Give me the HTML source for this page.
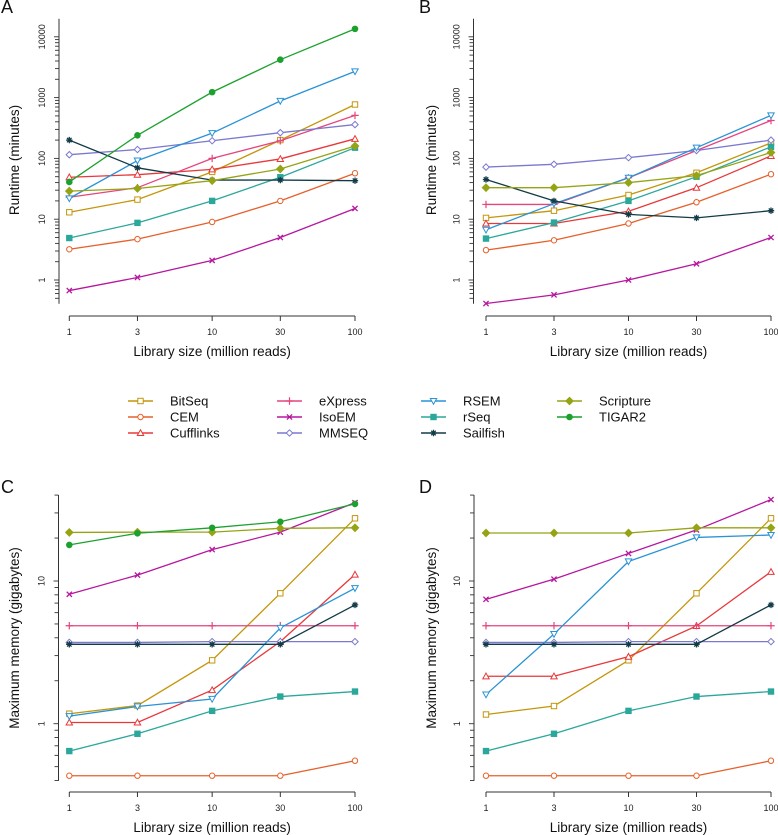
<!DOCTYPE html>
<html><head><meta charset="utf-8"><style>
body{margin:0;background:#fff;}
svg{display:block;font-family:"Liberation Sans",sans-serif;}
</style></head><body>
<svg id="fig" width="778" height="835" viewBox="0 0 778 835" xmlns="http://www.w3.org/2000/svg">
<g id="legend"></g>
</svg>
<script>
const methods=["BitSeq","CEM","Cufflinks","eXpress","IsoEM","MMSEQ","RSEM","rSeq","Sailfish","Scripture","TIGAR2"];
const xValues=[1,3,10,30,100];
const xTickLabels=["1","3","10","30","100"];
const runtimeTicks=[1,10,100,1000,10000];
const memoryTicks=[1,10];
const runtimeA={BitSeq:[13,21,60,200,770],CEM:[3.2,4.7,9,20,57],Cufflinks:[49,54,66,98,210],eXpress:[23,33,100,195,510],IsoEM:[0.67,1.1,2.1,5,15],MMSEQ:[115,140,195,265,360],RSEM:[22,92,260,880,2700],rSeq:[4.9,8.7,20,49,150],Sailfish:[200,70,44,44,43],Scripture:[29,32,43,67,160],TIGAR2:[41,240,1230,4200,13500]};
const runtimeB={BitSeq:[10.5,13.8,25,58,180],CEM:[3.1,4.5,8.5,19,55],Cufflinks:[8.5,8.5,13.5,33,110],eXpress:[17.5,17.5,48,135,420],IsoEM:[0.41,0.57,1.0,1.85,5],MMSEQ:[72,80,103,135,200],RSEM:[6.7,18,48,150,510],rSeq:[4.8,8.8,20,50,155],Sailfish:[45,20,12,10.5,13.8],Scripture:[33,33,40,52,125]};
const memoryC={BitSeq:[1.175,1.34,2.78,8.2,27.5],CEM:[0.432,0.432,0.432,0.432,0.55],Cufflinks:[1.02,1.02,1.72,3.76,11.1],eXpress:[4.86,4.86,4.86,4.86,4.86],IsoEM:[8.07,11,16.6,22,35.4],MMSEQ:[3.71,3.71,3.76,3.76,3.76],RSEM:[1.13,1.32,1.49,4.69,8.9],rSeq:[0.643,0.85,1.23,1.55,1.68],Sailfish:[3.6,3.6,3.6,3.6,6.8],Scripture:[21.9,22,22,23.4,23.6],TIGAR2:[17.9,21.6,23.6,26,34.7]};
const memoryD={BitSeq:[1.16,1.33,2.78,8.2,27.5],CEM:[0.432,0.432,0.432,0.432,0.55],Cufflinks:[2.15,2.15,2.95,4.84,11.6],eXpress:[4.86,4.86,4.86,4.86,4.86],IsoEM:[7.44,10.3,15.6,22.8,37.2],MMSEQ:[3.71,3.71,3.76,3.76,3.76],RSEM:[1.6,4.25,13.7,20.2,21],rSeq:[0.643,0.85,1.23,1.55,1.68],Sailfish:[3.6,3.6,3.6,3.6,6.8],Scripture:[21.7,21.7,21.7,23.6,23.6]};

const colors={BitSeq:"#c4960a",CEM:"#e6602a",Cufflinks:"#e8383a",eXpress:"#e5457d",IsoEM:"#b6179e",MMSEQ:"#7a78cf",RSEM:"#2a93d5",rSeq:"#2ba79b",Sailfish:"#123b48",Scripture:"#95a414",TIGAR2:"#1ca12e"};
const shapes={BitSeq:"sq",CEM:"ci",Cufflinks:"tri",eXpress:"plus",IsoEM:"x",MMSEQ:"dia",RSEM:"dtri",rSeq:"fsq",Sailfish:"ast",Scripture:"fdia",TIGAR2:"fci"};
const NS="http://www.w3.org/2000/svg";
const svg=document.getElementById('fig');
function el(tag,attrs,parent){const e=document.createElementNS(NS,tag);for(const k in attrs)e.setAttribute(k,attrs[k]);(parent||svg).appendChild(e);return e;}

function marker(g,shape,cx,cy,c){
  const r=3.2;let m;
  if(shape==="sq")m=el('rect',{x:cx-r+0.5,y:cy-r+0.5,width:2*r-1,height:2*r-1,fill:"#fff",stroke:c,"stroke-width":1},g);
  else if(shape==="fsq")m=el('rect',{x:cx-r+0.5,y:cy-r+0.5,width:2*r-1,height:2*r-1,fill:c,stroke:c,"stroke-width":1},g);
  else if(shape==="ci")m=el('circle',{cx:cx,cy:cy,r:r-0.5,fill:"#fff",stroke:c,"stroke-width":1},g);
  else if(shape==="fci")m=el('circle',{cx:cx,cy:cy,r:r-0.4,fill:c,stroke:c,"stroke-width":1},g);
  else if(shape==="tri")m=el('polygon',{points:`${cx},${cy-r} ${cx+r},${cy+r*0.8} ${cx-r},${cy+r*0.8}`,fill:"#fff",stroke:c,"stroke-width":1},g);
  else if(shape==="dtri")m=el('polygon',{points:`${cx},${cy+r} ${cx+r},${cy-r*0.8} ${cx-r},${cy-r*0.8}`,fill:"#fff",stroke:c,"stroke-width":1},g);
  else if(shape==="dia")m=el('polygon',{points:`${cx},${cy-r} ${cx+r},${cy} ${cx},${cy+r} ${cx-r},${cy}`,fill:"#fff",stroke:c,"stroke-width":1},g);
  else if(shape==="fdia")m=el('polygon',{points:`${cx},${cy-r-0.5} ${cx+r+0.5},${cy} ${cx},${cy+r+0.5} ${cx-r-0.5},${cy}`,fill:c,stroke:c,"stroke-width":1},g);
  else if(shape==="plus")m=el('path',{d:`M${cx-r-0.5},${cy}H${cx+r+0.5}M${cx},${cy-r-0.5}V${cy+r+0.5}`,stroke:c,"stroke-width":1.2,fill:"none"},g);
  else if(shape==="x")m=el('path',{d:`M${cx-r+0.6},${cy-r+0.6}L${cx+r-0.6},${cy+r-0.6}M${cx-r+0.6},${cy+r-0.6}L${cx+r-0.6},${cy-r+0.6}`,stroke:c,"stroke-width":1.3,fill:"none"},g);
  else if(shape==="ast")m=el('path',{d:`M${cx-r},${cy}H${cx+r}M${cx},${cy-r}V${cy+r}M${cx-r*0.7},${cy-r*0.7}L${cx+r*0.7},${cy+r*0.7}M${cx-r*0.7},${cy+r*0.7}L${cx+r*0.7},${cy-r*0.7}`,stroke:c,"stroke-width":1.3,fill:"none"},g);
  return m;
}

function panel(opt){
  const g=el('g',{});
  
  
  const X=v=>opt.x0+(Math.log10(v))*(opt.x1-opt.x0)/2;
  const Y=v=>opt.y1-(Math.log10(v)-opt.l1)*opt.dec;
  const L=el('text',{x:opt.lx,y:opt.ly,"font-size":18,fill:"#111"},g);L.textContent=opt.letter;
  
  const ya=el('g',{},g);
  
  el('line',{x1:opt.ax,x2:opt.ax,y1:opt.yTop,y2:opt.yBot,stroke:"#333","stroke-width":1},ya);
  const lo=Math.pow(10,opt.lmin),hi=Math.pow(10,opt.lmax);
  for(let d=-1;d<=5;d++){for(let k=1;k<=9;k++){const v=k*Math.pow(10,d);if(v<lo||v>hi)continue;
    const y=Y(v);el('line',{x1:opt.ax-(k===1?5:4),x2:opt.ax,y1:y,y2:y,stroke:"#333","stroke-width":0.9},ya);}}
  opt.yticks.forEach(v=>{const y=Y(v);const t=el('text',{x:opt.ax-14,y:y,"font-size":9,"text-anchor":"middle",transform:`rotate(-90 ${opt.ax-14} ${y})`,fill:"#222"},ya);t.textContent=String(v);
    });
  const yt=el('text',{x:opt.tx,y:opt.tcy,"font-size":13.5,"text-anchor":"middle",transform:`rotate(-90 ${opt.tx} ${opt.tcy})`,fill:"#111"},ya);yt.textContent=opt.ytitle;
  
  const xa=el('g',{},g);
  
  el('line',{x1:X(1),x2:X(100),y1:opt.xAxisY,y2:opt.xAxisY,stroke:"#333","stroke-width":1},xa);
  xValues.forEach((v,i)=>{const x=X(v);el('line',{x1:x,x2:x,y1:opt.xAxisY,y2:opt.xAxisY+5,stroke:"#333","stroke-width":1},xa);
    const t=el('text',{x:x,y:opt.xAxisY+19,"font-size":9,"text-anchor":"middle",fill:"#222"},xa);t.textContent=xTickLabels[i];
    });
  const xt=el('text',{x:(X(1)+X(100))/2,y:opt.xAxisY+40,"font-size":13.5,"text-anchor":"middle",fill:"#111"},xa);xt.textContent="Library size (million reads)";
  
  methods.forEach(m=>{const vals=opt.data[m];if(!vals)return;
    const sg=el('g',{},g);
    
    
    const pts=vals.map((v,i)=>X(xValues[i]).toFixed(2)+","+Y(v).toFixed(2)).join(" ");
    const pl=el('polyline',{points:pts,fill:"none",stroke:colors[m],"stroke-width":1.3},sg);
    
    vals.forEach((v,i)=>{const mk=marker(sg,shapes[m],X(xValues[i]),Y(v),colors[m]);
      });
  });
}
panel({name:"panel-a-runtime",letter:"A",lx:1,ly:13,x0:69.3,x1:355,ax:59,yTop:18.7,yBot:303.7,y1:280,l1:0,dec:60.8,lmin:-0.39,lmax:4.3,yticks:runtimeTicks,tx:19,tcy:160,ytitle:"Runtime (minutes)",xAxisY:316,data:runtimeA});
panel({name:"panel-b-runtime",letter:"B",lx:419,ly:13,x0:486,x1:771,ax:473.5,yTop:18.7,yBot:303.7,y1:280,l1:0,dec:60.8,lmin:-0.39,lmax:4.3,yticks:runtimeTicks,tx:436,tcy:160,ytitle:"Runtime (minutes)",xAxisY:316,data:runtimeB});
panel({name:"panel-c-memory",letter:"C",lx:1,ly:493,x0:69.3,x1:355,ax:58.5,yTop:495,yBot:780.7,y1:723.7,l1:0,dec:142.7,lmin:-0.4,lmax:1.603,yticks:memoryTicks,tx:19,tcy:638,ytitle:"Maximum memory (gigabytes)",xAxisY:792,data:memoryC});
panel({name:"panel-d-memory",letter:"D",lx:419,ly:493,x0:486,x1:771,ax:474,yTop:495,yBot:780.7,y1:723.7,l1:0,dec:142.7,lmin:-0.4,lmax:1.603,yticks:memoryTicks,tx:436,tcy:638,ytitle:"Maximum memory (gigabytes)",xAxisY:792,data:memoryD});

const lg=document.getElementById('legend');
const colX=[128,277,421,557];
const rowY=[401,417,433];
methods.forEach((m,i)=>{const c=Math.floor(i/3),r=i%3;
  const e=el('g',{},lg);
  
  
  const x=colX[c],y=rowY[r];
  el('line',{x1:x,x2:x+25,y1:y,y2:y,stroke:colors[m],"stroke-width":1.5},e);
  marker(e,shapes[m],x+12.5,y,colors[m]);
  const t=el('text',{x:x+42,y:y+4.5,"font-size":13,fill:"#111"},e);t.textContent=m;
});
</script>
</body></html>
